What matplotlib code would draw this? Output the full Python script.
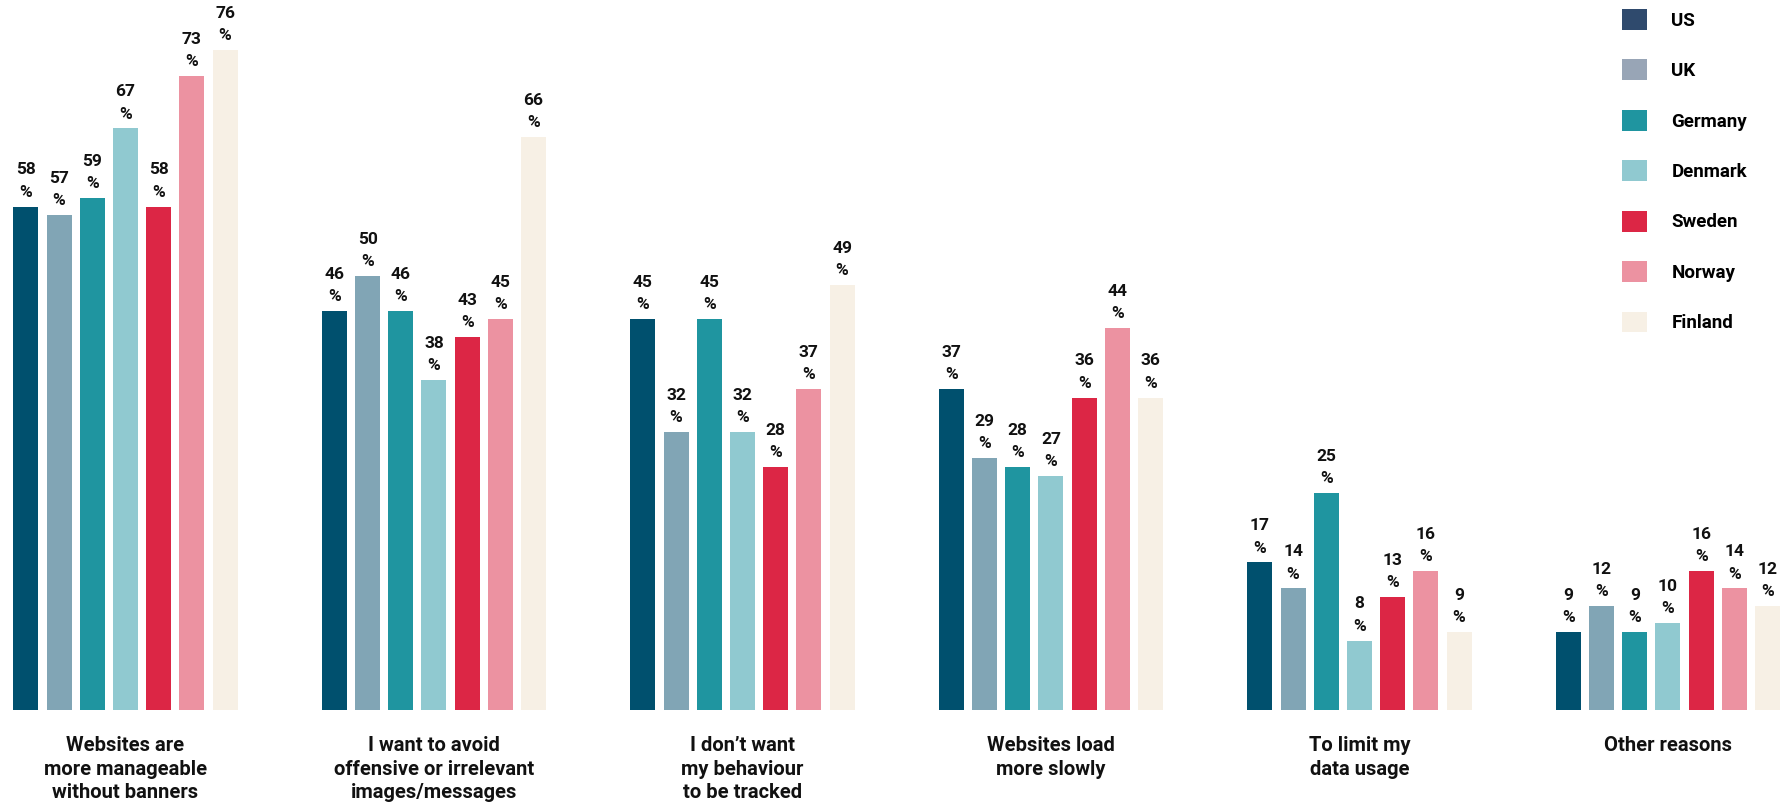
import matplotlib.pyplot as plt
from matplotlib.patches import Patch
from matplotlib import font_manager
import numpy as np

categories = [
    "Websites are\nmore manageable\nwithout banners",
    "I want to avoid\noffensive or irrelevant\nimages/messages",
    "I don\u2019t want\nmy behaviour\nto be tracked",
    "Websites load\nmore slowly",
    "To limit my\ndata usage",
    "Other reasons",
]
countries = ["US", "UK", "Germany", "Denmark", "Sweden", "Norway", "Finland"]
us = [58, 46, 45, 37, 17, 9]
uk = [57, 50, 32, 29, 14, 12]
germany = [59, 46, 45, 28, 25, 9]
denmark = [67, 38, 32, 27, 8, 10]
sweden = [58, 43, 28, 36, 13, 16]
norway = [73, 45, 37, 44, 16, 14]
finland = [76, 66, 49, 36, 9, 12]
series = [us, uk, germany, denmark, sweden, norway, finland]

bar_colors = ["#00506e", "#81a5b5", "#1f95a0", "#90c9d0", "#dc2645", "#ec92a1", "#f7f0e5"]
legend_colors = ["#2f4a6d", "#98a5b6", "#1f95a0", "#90c9d0", "#dc2645", "#ec92a1", "#f7f0e5"]

available = {f.name for f in font_manager.fontManager.ttflist}
for fam in ["Liberation Sans Narrow", "Roboto", "DejaVu Sans"]:
    if fam in available:
        font = fam
        break
plt.rcParams["font.family"] = [font, "DejaVu Sans"]

fig = plt.figure(figsize=(17.81, 8.08), dpi=100)
ax = fig.add_axes([0, 98 / 808, 1, 710 / 808])

pitch = 33.2 / 308.5
width = 25 / 308.5
x = np.arange(len(categories))
for j, (vals, col) in enumerate(zip(series, bar_colors)):
    pos = x + (j - 3) * pitch
    ax.bar(pos, vals, width=width, color=col)
    for p, v in zip(pos, vals):
        ax.text(p, v + 0.8, f"{v}\n%", ha="center", va="bottom", fontsize=12.5,
                fontweight="bold", color="#111111", linespacing=1.6)

ax.set_xlim(-125.5 / 308.5, (1781 - 125.5) / 308.5)
ax.set_ylim(0, 81.8)
ax.axis("off")

for xi, cat in zip(x, categories):
    ax.text(xi, -3.0, cat, ha="center", va="top", fontsize=14.5, fontweight="bold",
            color="#111111", linespacing=1.3)

handles = [Patch(facecolor=c, edgecolor="none") for c in legend_colors]
fig.legend(handles, countries, loc="upper left", bbox_to_anchor=(1622 / 1781, 1 - 9 / 808),
           frameon=False, handlelength=1.33, handleheight=1.33,
           labelspacing=1.58, handletextpad=1.3, borderpad=0, borderaxespad=0,
           prop={"weight": "bold", "size": 13.5})

fig.savefig("out.png", dpi=100)
